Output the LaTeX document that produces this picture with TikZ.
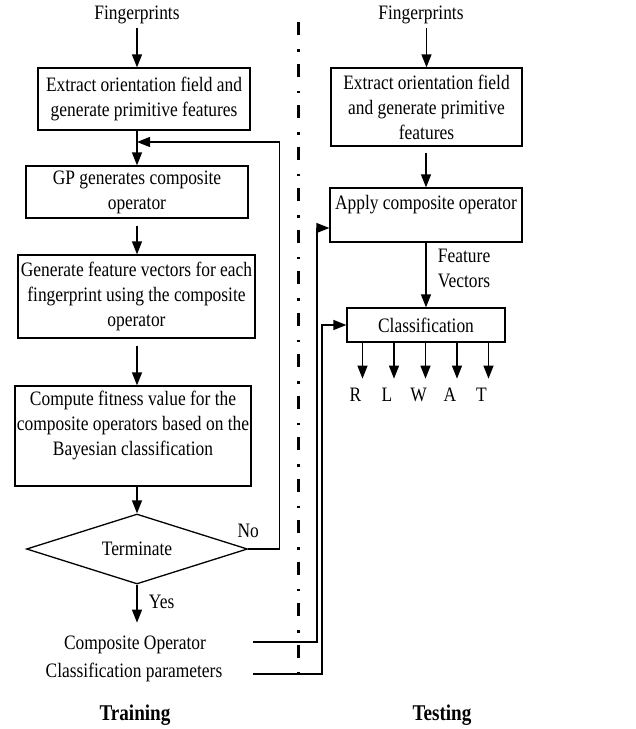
\documentclass[tikz,border=0pt]{standalone}
\usepackage{fontspec}
\setmainfont{Liberation Serif}[FakeStretch=0.85]
\usetikzlibrary{arrows.meta,shapes.geometric,calc}

\begin{document}
\begin{tikzpicture}
      [x=1pt,y=-1pt,line width=1.3pt,
      every node/.style={align=center,font=\fontsize{20.5}{25}\selectfont},
      box/.style={draw,inner sep=0pt},
      arr/.style={-{Triangle[length=13pt,width=10pt]}},
      title/.style={font=\bfseries\fontsize{22.5}{27}\selectfont}]
      \useasboundingbox (0,0) rectangle (636,729);
      % training
      \node (fpL) at (137,15) {Fingerprints};
      \node[box,minimum width=212,minimum height=62] (extL) at (144,99)
        {Extract orientation field and\\generate primitive features};
      \node[box,minimum width=222,minimum height=52] (gpL) at (137,192)
        {GP generates composite\\operator};
      \node[box,minimum width=237,minimum height=83] (featL) at (136.5,296.5)
        {Generate feature vectors for each\\fingerprint using the composite\\operator};
      \node[box,minimum width=236,minimum height=100] (fitL) at (133,436)
        {Compute fitness value for the\\composite operators based on the\\Bayesian classification\\ \mbox{}};
      \node[draw,shape=diamond,inner sep=0pt,aspect=3.1,minimum width=221,minimum height=70] (term) at (137,549)
        {Terminate};
      \node (coOp) at (135,645) {Composite Operator};
      \node (clPar) at (134,672) {Classification parameters};
      \coordinate (loop) at (137,142);
      \coordinate (coEnd) at (253,642);
      \coordinate (clEnd) at (253,674);
      \draw[arr] (fpL.south) -- (fpL.south |- extL.north);
      \draw[arr] (extL.south -| gpL.north) -- (gpL.north);
      \draw[arr,shorten <=7pt] (gpL.south) -- (gpL.south |- featL.north);
      \draw[arr,shorten <=7pt] (featL.south -| term.north) -- (featL.north |- fitL.north -| term.north);
      \draw[arr] (fitL.south -| term.north) -- (term.north);
      \draw[arr] (term.east) -- ++(31,0) node[above=7pt,pos=0] {No} |- (loop);
      \draw[arr] (term.south) -- ++(0,38) node[right=8pt,pos=0.45] {Yes};
      % divider
      \coordinate (divTop) at (298,22);
      \coordinate (divBot) at (298,683);
      \draw[line width=3pt,dash pattern=on 13pt off 14pt on 2.5pt off 12pt] (divTop) -- (divBot);
      % testing
      \node (fpR) at (421,15) {Fingerprints};
      \node[box,minimum width=191,minimum height=78] (extR) at (426.5,107)
        {Extract orientation field\\and generate primitive\\features};
      \node[box,minimum width=192,minimum height=54] (applyR) at (426,215)
        {Apply composite operator\\ \mbox{}};
      \node[box,minimum width=158,minimum height=34] (classR) at (426,325)
        {Classification};
      \draw[arr] (fpR.south -| extR.north) -- (extR.north);
      \draw[arr,shorten <=6pt] (extR.south -| applyR.north) -- (applyR.north);
      \draw[arr] (applyR.south -| classR.north) -- (classR.north)
        node[right=8pt,pos=0.4,align=left] {Feature\\Vectors};
      \foreach \cls [count=\i] in {R,L,W,A,T}
      {
        \pgfmathsetmacro{\ax}{362.5+31.5*(\i-1)}
        \node (out\i) at (\ax-7,395) {\cls};
        \draw[arr] (classR.south -| \ax,0) -- ++(0,36);
      }
      \draw[arr] (coEnd) -- ++(64,0) |- ([yshift=-13pt]applyR.west);
      \draw[arr] (clEnd) -- ++(69,0) |- (classR.west);
      \node[title] (train) at (135,715) {Training};
      \node[title] (test) at (442,715) {Testing};
\end{tikzpicture}
\end{document}
